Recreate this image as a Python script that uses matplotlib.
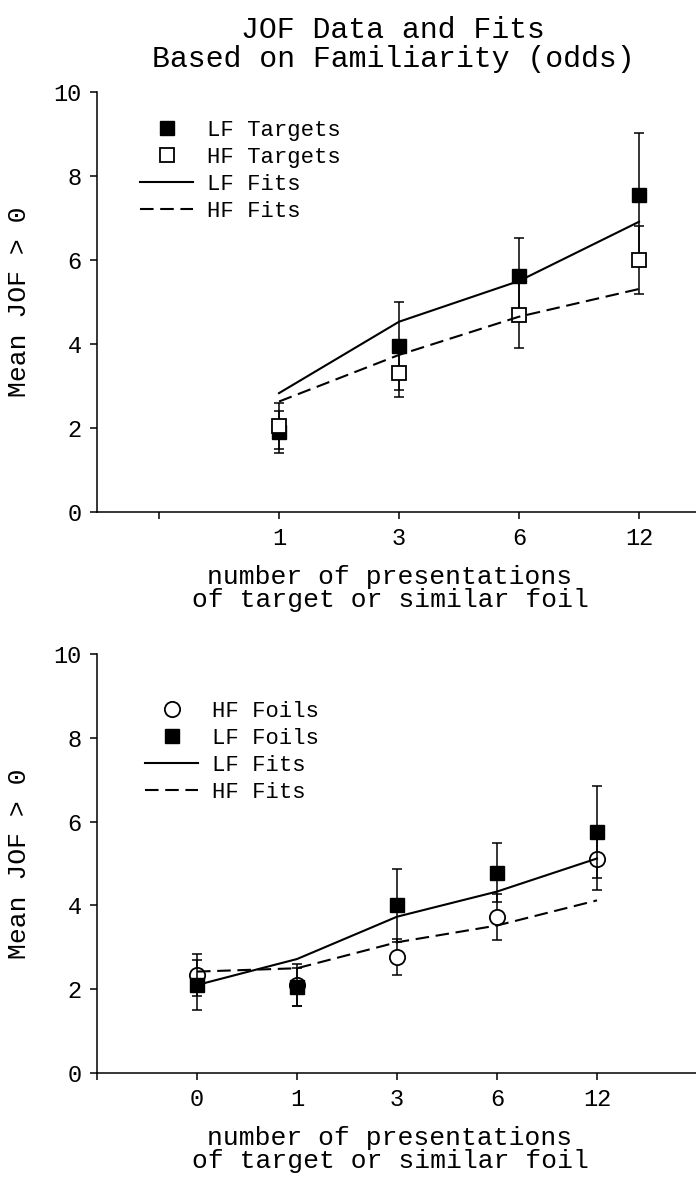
import matplotlib
matplotlib.use('Agg')
import matplotlib.pyplot as plt
from matplotlib.lines import Line2D

plt.rcParams['font.family'] = ['Liberation Mono', 'DejaVu Sans Mono']

# top panel: targets
top_labels = ['', '1', '3', '6', '12']
top_pos = [1, 2, 3, 4]
lf_targets = [1.9, 3.95, 5.63, 7.55]
lf_targets_err = [0.5, 1.05, 0.9, 1.47]
hf_targets = [2.05, 3.3, 4.7, 6.0]
hf_targets_err = [0.55, 0.55, 0.8, 0.8]
lf_fits_top = [2.83, 4.53, 5.5, 6.91]
hf_fits_top = [2.63, 3.74, 4.65, 5.31]

# bottom panel: foils
bot_labels = ['0', '1', '3', '6', '12']
bot_pos = [0, 1, 2, 3, 4]
hf_foils = [2.33, 2.1, 2.77, 3.72, 5.1]
hf_foils_err = [0.5, 0.5, 0.43, 0.55, 0.73]
lf_foils = [2.1, 2.05, 4.0, 4.78, 5.75]
lf_foils_err = [0.6, 0.45, 0.88, 0.7, 1.1]
lf_fits_bot = [2.1, 2.72, 3.73, 4.33, 5.12]
hf_fits_bot = [2.42, 2.5, 3.12, 3.52, 4.12]

W, H = 696, 1186
fig = plt.figure(figsize=(W / 100, H / 100), dpi=100)
ax1 = fig.add_axes([97 / W, (H - 512) / H, 599 / W, 420 / H])
ax2 = fig.add_axes([97 / W, (H - 1073) / H, 599 / W, 419 / H])

dash = (6.5, 3.2)
err_kw = dict(fmt='none', ecolor='black', elinewidth=1.1, capsize=3.8, capthick=1.1)


def style(ax):
    for s in ['top', 'right']:
        ax.spines[s].set_visible(False)
    for s in ['left', 'bottom']:
        ax.spines[s].set_linewidth(1.1)
    ax.set_ylim(0, 10)
    ax.set_yticks(range(0, 11, 2))
    ax.tick_params(direction='out', length=5, width=1.1, labelsize=17, pad=6)
    ax.set_ylabel('Mean JOF > 0', fontsize=19)
    ax.yaxis.set_label_coords(-0.11, 0.5)
    ax.set_xlabel('number of presentations\nof target or similar foil',
                  fontsize=19, linespacing=0.95)


# ---- top ----
ax1.errorbar(top_pos, lf_targets, yerr=lf_targets_err, **err_kw)
ax1.plot(top_pos, lf_targets, 's', color='black', ms=10, mec='black')
ax1.errorbar(top_pos, hf_targets, yerr=hf_targets_err, **err_kw)
ax1.plot(top_pos, hf_targets, 's', color='black', ms=10, mfc='white', mec='black', mew=1.3)
ax1.plot(top_pos, lf_fits_top, '-', color='black', lw=1.5)
ax1.plot(top_pos, hf_fits_top, '--', color='black', lw=1.5, dashes=dash)
ax1.set_xlim(-62 / 120, 537 / 120)
ax1.set_xticks(range(5))
ax1.set_xticklabels(top_labels)
style(ax1)
ax1.xaxis.set_label_coords((390 - 97) / 599, -0.127)

h1 = [Line2D([], [], ls='none', marker='s', color='black', ms=10),
      Line2D([], [], ls='none', marker='s', mfc='white', mec='black', mew=1.3, ms=10),
      Line2D([], [], color='black', lw=1.5),
      Line2D([], [], color='black', lw=1.5, ls='--', dashes=dash)]
ax1.legend(h1, ['LF Targets', 'HF Targets', 'LF Fits', 'HF Fits'], frameon=False,
           loc='upper left', bbox_to_anchor=(0.072, 0.933), borderaxespad=0, borderpad=0,
           handlelength=2.4, handletextpad=0.6, labelspacing=0.27, fontsize=16)

# ---- bottom ----
ax2.errorbar(bot_pos, hf_foils, yerr=hf_foils_err, **err_kw)
ax2.plot(bot_pos, hf_foils, 'o', ms=11, mfc='white', mec='black', mew=1.3)
ax2.errorbar(bot_pos, lf_foils, yerr=lf_foils_err, **err_kw)
ax2.plot(bot_pos, lf_foils, 's', color='black', ms=10)
ax2.plot(bot_pos, lf_fits_bot, '-', color='black', lw=1.5)
ax2.plot(bot_pos, hf_fits_bot, '--', color='black', lw=1.5, dashes=dash)
ax2.set_xlim(-1.0, 4.99)
ax2.set_xticks([-1] + bot_pos)
ax2.set_xticklabels([''] + bot_labels)
style(ax2)
ax2.xaxis.set_label_coords((390 - 97) / 599, -0.127)

h2 = [Line2D([], [], ls='none', marker='o', mfc='white', mec='black', mew=1.3, ms=11),
      Line2D([], [], ls='none', marker='s', color='black', ms=10),
      Line2D([], [], color='black', lw=1.5),
      Line2D([], [], color='black', lw=1.5, ls='--', dashes=dash)]
ax2.legend(h2, ['HF Foils', 'LF Foils', 'LF Fits', 'HF Fits'], frameon=False,
           loc='upper left', bbox_to_anchor=(0.08, 0.889), borderaxespad=0, borderpad=0,
           handlelength=2.4, handletextpad=0.6, labelspacing=0.27, fontsize=16)

fig.text(393 / W, 1 - 38 / H, 'JOF Data and Fits', ha='center', va='baseline', fontsize=21.5)
fig.text(393 / W, 1 - 67 / H, 'Based on Familiarity (odds)', ha='center', va='baseline', fontsize=21.5)

fig.savefig('out.png', dpi=100)
